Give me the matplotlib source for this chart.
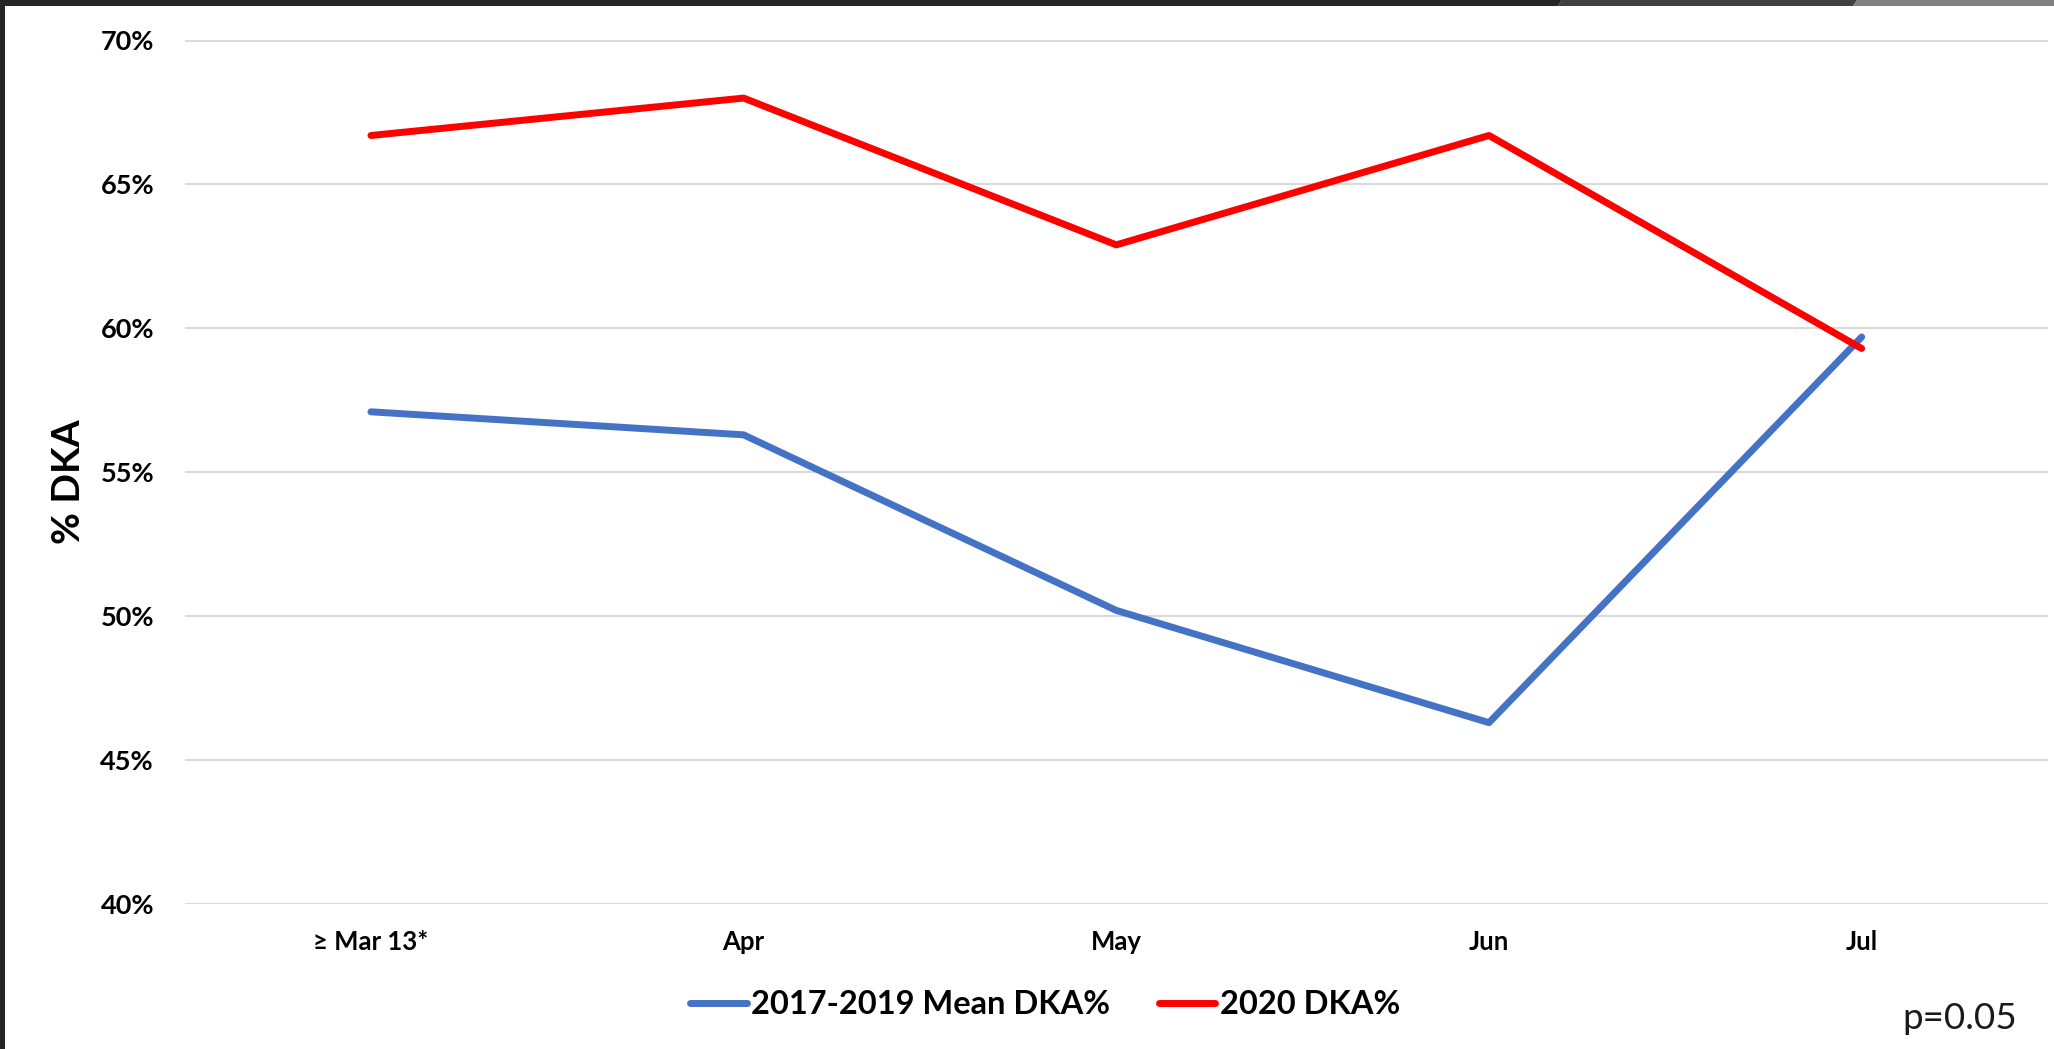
import matplotlib
matplotlib.use("Agg")
import matplotlib.pyplot as plt
from matplotlib.patches import Polygon, Rectangle

plt.rcParams['font.family'] = ['Lato', 'DejaVu Sans']

# Monthly share of new-onset diabetes presenting in DKA
categories = ["\u2265 Mar 13*", "Apr", "May", "Jun", "Jul"]
mean_2017_2019 = [57.1, 56.3, 50.2, 46.3, 59.7]
dka_2020 = [66.7, 68.0, 62.9, 66.7, 59.3]
y_ticks = [40, 45, 50, 55, 60, 65, 70]
series_names = ["2017-2019 Mean DKA%", "2020 DKA%"]
p_value_text = "p=0.05"

W, H = 2054, 1049
fig = plt.figure(figsize=(W / 100, H / 100), dpi=100)
fig.patch.set_facecolor("white")

ax = fig.add_axes([184.6 / W, 1 - 904 / H, (2048 - 184.6) / W, (904 - 40.5) / H])
x = list(range(len(categories)))

ax.plot(x, mean_2017_2019, color="#4472C4", lw=5, solid_capstyle="round",
        solid_joinstyle="round", label=series_names[0], zorder=3)
ax.plot(x, dka_2020, color="#FF0000", lw=5, solid_capstyle="round",
        solid_joinstyle="round", label=series_names[1], zorder=3)

ax.set_xlim(-0.5, len(categories) - 0.5)
ax.set_ylim(40, 70)
ax.set_yticks(y_ticks)
ax.set_yticklabels([f"{t}%" for t in y_ticks], fontsize=19.5, fontweight="bold")
ax.set_xticks(x)
ax.set_xticklabels(categories, fontsize=18.5, fontweight="bold")
ax.tick_params(axis="y", length=0, pad=22)
ax.tick_params(axis="x", length=0, pad=19)
ax.grid(axis="y", color="#D9D9D9", lw=1.4)
ax.set_axisbelow(True)
for s in ax.spines.values():
    s.set_visible(False)

ax.set_ylabel("% DKA", fontsize=28, fontweight="bold")
ax.yaxis.label.set_va("center")
ax.yaxis.set_label_coords((68 - 184.6) / (2048 - 184.6), (904 - 482) / (904 - 40.5))

leg = fig.legend(loc="center", bbox_to_anchor=(1045.5 / W, 1 - 1005 / H), ncol=2,
                 frameon=False, prop={"size": 23.5, "weight": "bold"},
                 handlelength=1.72, handletextpad=0.15, columnspacing=1.5,
                 borderpad=0, borderaxespad=0)

fig.text(2017 / W, 1 - 1029 / H, p_value_text, fontsize=26.5, ha="right",
         va="baseline", color="#1A1A1A")

# Window frame: dark strip along the top and left edges
def px(xp, yp):
    return (xp / W, 1 - yp / H)

fig.patches.append(Polygon([px(0, 0), px(1562, 0), px(1558, 6), px(0, 6)],
                           closed=True, transform=fig.transFigure,
                           facecolor="#262626", edgecolor="none"))
fig.patches.append(Polygon([px(1562, 0), px(1857, 0), px(1853, 6), px(1558, 6)],
                           closed=True, transform=fig.transFigure,
                           facecolor="#404040", edgecolor="none"))
fig.patches.append(Polygon([px(1857, 0), px(W, 0), px(W, 6), px(1853, 6)],
                           closed=True, transform=fig.transFigure,
                           facecolor="#808080", edgecolor="none"))
fig.patches.append(Rectangle(px(0, H), 5 / W, 1, transform=fig.transFigure,
                             facecolor="#262626", edgecolor="none"))

fig.savefig("out.png", dpi=100)
